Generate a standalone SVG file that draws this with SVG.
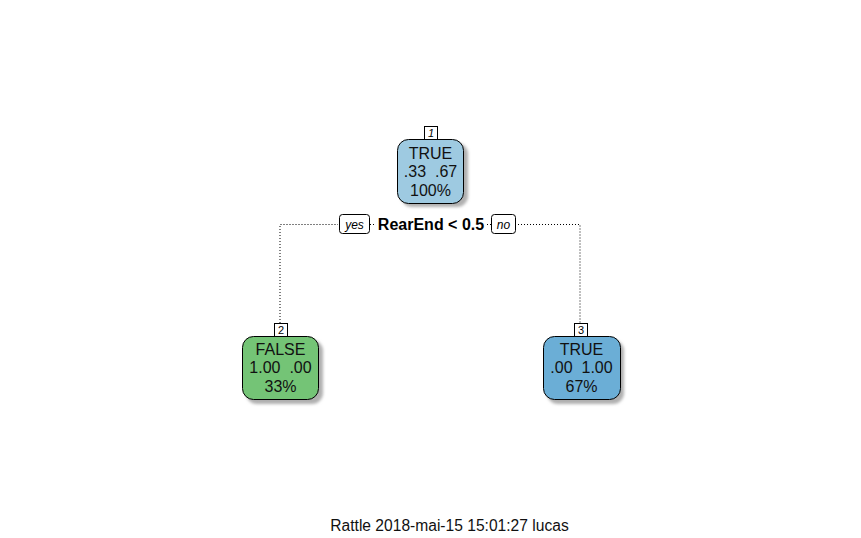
<svg xmlns="http://www.w3.org/2000/svg" width="861" height="538" viewBox="0 0 861 538">
<style>
.node{stroke:#000;stroke-width:1}
.t{font-family:"Liberation Sans",Arial,sans-serif;font-size:16px;fill:#111;text-anchor:middle;white-space:pre}
.num{font-family:"Liberation Sans",Arial,sans-serif;font-size:11px;fill:#000;text-anchor:middle}
.lab{fill:#fff;stroke:#000;stroke-width:1}
.edge{fill:none;stroke:#000;stroke-width:1;stroke-dasharray:1 2}
.yn{font-family:"Liberation Sans",Arial,sans-serif;font-size:12px;font-style:italic;fill:#000;text-anchor:middle}
.split{font-family:"Liberation Sans",Arial,sans-serif;font-size:16px;font-weight:bold;fill:#000;text-anchor:middle}
</style>
<defs>
<filter id="blur" x="-20%" y="-20%" width="140%" height="140%"><feGaussianBlur stdDeviation="1.5"/></filter>
</defs>
<rect width="861" height="538" fill="#fff"/>
<g id="connectors">
<path class="edge" d="M280,323 V224.5 H338 M370,224.5 H375 M487,224.5 H491 M515,224.5 H580 V323"/>
<rect class="lab" x="339.5" y="214.5" width="30" height="19" rx="3"/>
<text class="yn" x="354.5" y="229">yes</text>
<rect class="lab" x="491.5" y="214.5" width="24" height="19" rx="3"/>
<text class="yn" x="503.5" y="229">no</text>
<text class="split" x="431" y="230">RearEnd &lt; 0.5</text>
</g>
<g id="node1">
<rect x="401" y="143" width="67" height="64" rx="11" fill="#b0b0b0" filter="url(#blur)"/>
<rect class="node" x="397.5" y="139.5" width="66" height="64" rx="11" fill="#9ECAE1"/>
<rect class="lab" x="424.5" y="126.5" width="13" height="13"/>
<text class="num" x="431" y="137" font-style="italic">1</text>
<text class="t" x="430.5" y="159">TRUE</text>
<text class="t" x="430.5" y="177" xml:space="preserve">.33  .67</text>
<text class="t" x="430.5" y="196">100%</text>
</g>
<g id="node2">
<rect x="246" y="340" width="77" height="64" rx="11" fill="#b0b0b0" filter="url(#blur)"/>
<rect class="node" x="242.5" y="336.5" width="76" height="63" rx="11" fill="#74C476"/>
<rect class="lab" x="274.5" y="323.5" width="13" height="13"/>
<text class="num" x="281" y="334">2</text>
<text class="t" x="280.5" y="355">FALSE</text>
<text class="t" x="280.5" y="373" xml:space="preserve">1.00  .00</text>
<text class="t" x="280.5" y="392">33%</text>
</g>
<g id="node3">
<rect x="547" y="340" width="77" height="64" rx="11" fill="#b0b0b0" filter="url(#blur)"/>
<rect class="node" x="543.5" y="336.5" width="77" height="63" rx="11" fill="#6BAED6"/>
<rect class="lab" x="574.5" y="323.5" width="13" height="13"/>
<text class="num" x="581" y="334">3</text>
<text class="t" x="581.5" y="355">TRUE</text>
<text class="t" x="581.5" y="373" xml:space="preserve">.00  1.00</text>
<text class="t" x="581.5" y="392">67%</text>
</g>
<text class="t" x="449.5" y="531" style="font-size:15.6px">Rattle 2018-mai-15 15:01:27 lucas</text>
</svg>
